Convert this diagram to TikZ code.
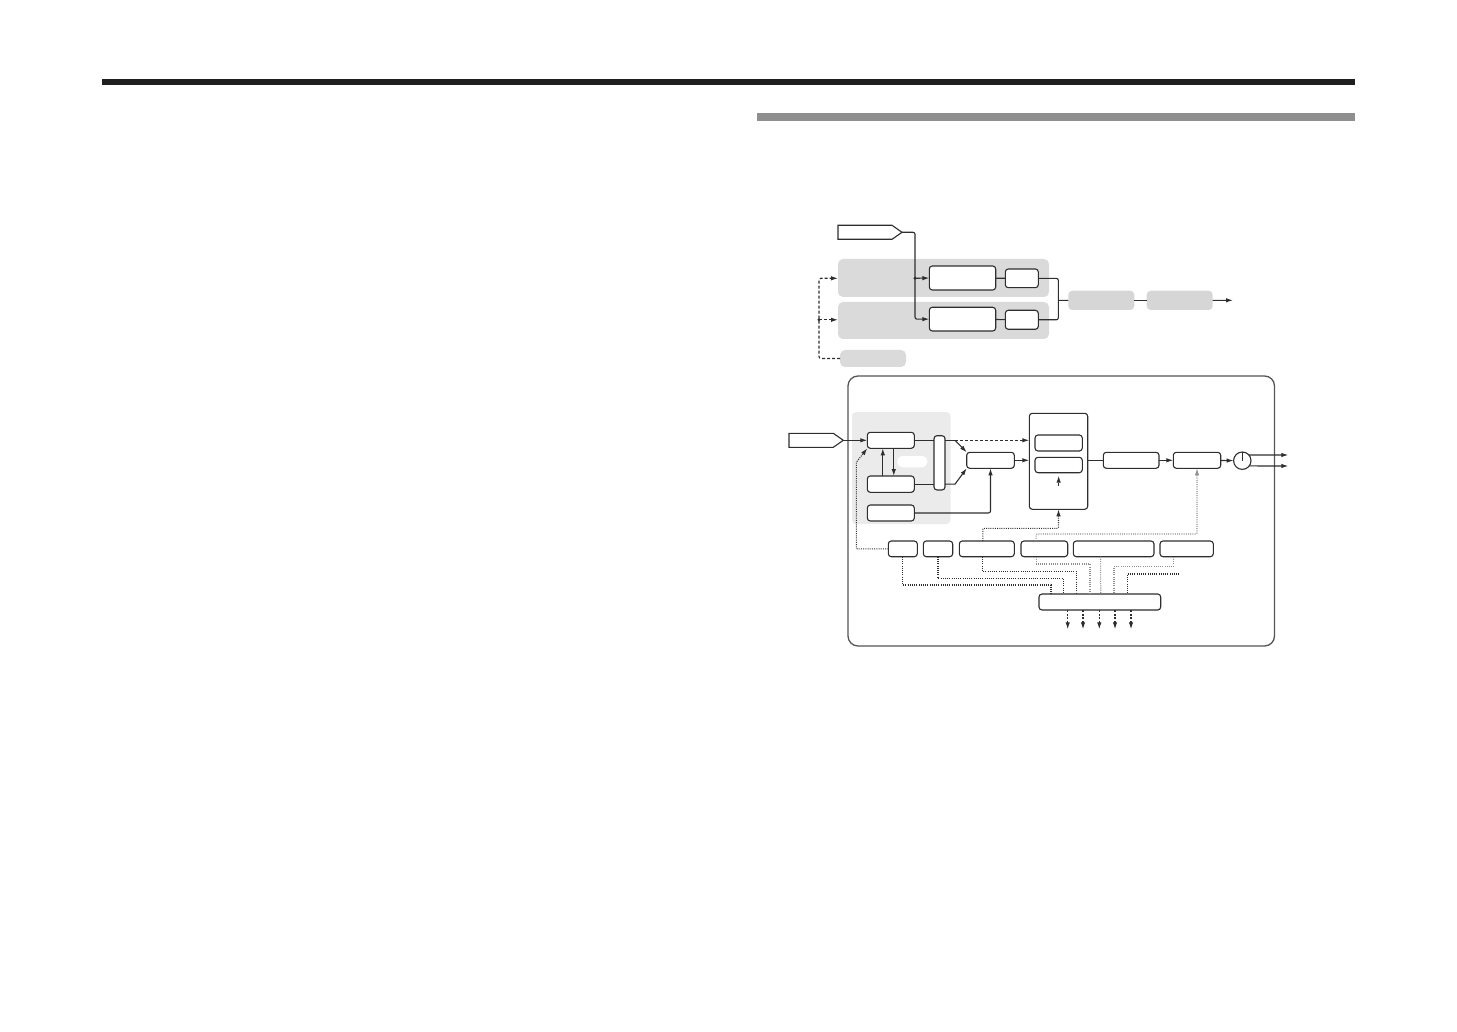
\documentclass[tikz,border=0pt]{standalone}
\usetikzlibrary{arrows.meta,calc,shapes.symbols}
\definecolor{linec}{HTML}{2E2E2E}
\definecolor{panelc}{HTML}{DADADA}
\definecolor{gboxc}{HTML}{D6D6D6}
\definecolor{innerc}{HTML}{EBEBEB}
\definecolor{barc}{HTML}{8F8F8F}
\definecolor{frame}{HTML}{555555}
\definecolor{dotgc}{HTML}{909090}
\newcommand\rbox[6]{\node[#1,anchor=north west,minimum width={#4-#2},minimum height={#5-#3}] (#6) at (#2,#3) {};}
\begin{document}
\begin{tikzpicture}[x=1pt,y=-1pt,
  box/.style={draw=linec,fill=white,rounded corners=3,line width=1.1pt,inner sep=0pt,outer sep=0pt},
  gpanel/.style={fill=panelc,rounded corners=5,inner sep=0pt,outer sep=0pt},
  gbox/.style={fill=gboxc,rounded corners=4,inner sep=0pt,outer sep=0pt},
  inpanel/.style={fill=innerc,rounded corners=4,inner sep=0pt,outer sep=0pt},
  blob/.style={fill=white,rounded corners=5,inner sep=0pt,outer sep=0pt},
  bigbox/.style={draw=frame,line width=1.3pt,rounded corners=10,inner sep=0pt,outer sep=0pt},
  sig/.style={draw=linec,fill=white,line width=1.1pt,shape=signal,signal to=east,signal pointer angle=70,inner sep=0pt,outer sep=0pt,anchor=west},
  ln/.style={draw=linec,line width=1.1pt},
  ar/.style={-{Latex[length=7pt,width=4.5pt]}},
  dsh/.style={dash pattern=on 3pt off 2pt},
  dsho/.style={dash pattern=on 2pt off 1.5pt},
  dotb/.style={draw=linec,line width=1.1pt,dash pattern=on 1pt off 1.2pt},
  dotg/.style={draw=dotgc,line width=1.1pt,dash pattern=on 1pt off 1.2pt}]
\useasboundingbox (0,0) rectangle (1457,1032);
% header bars
\fill[black!88] (102,79) rectangle (1355,85);
\fill[barc] (757,113) rectangle (1355,121);

% ---------- top diagram ----------
\rbox{gpanel}{838}{259}{1049}{297}{GP1}
\rbox{gpanel}{838}{302}{1049}{339}{GP2}
\rbox{gpanel}{840}{350}{906}{367}{GP3}
\node[sig,minimum width=64,minimum height=14] (P1) at (838,232.3) {};
\rbox{box}{929.3}{266}{995.7}{290}{T1}
\rbox{box}{1005.3}{269}{1038.3}{287.7}{S1}
\rbox{box}{929.3}{307.3}{995.7}{331}{T2}
\rbox{box}{1005.3}{310.3}{1038.3}{329.3}{S2}
\rbox{gbox}{1068.3}{290.7}{1134.3}{310}{G1}
\rbox{gbox}{1146.7}{290.7}{1212.7}{310}{G2}
\coordinate (j1) at (915,278.3);
\coordinate (m1) at (1058.3,300.3);
\coordinate (out1) at (1233,300.3);
\coordinate (d0) at (819,278.3);
\coordinate (d1) at (819,319.8);

\draw[ln,ar,rounded corners=2] (P1.east) -| (j1) |- (T2.west);
\draw[ln,ar] (j1) -- (T1.west);
\fill[linec] (j1) circle (1.6);
\draw[ln] (T1) -- (S1);
\draw[ln] (T2) -- (S2);
\draw[ln,rounded corners=2] (S1.east) -| (m1) |- (S2.east);
\draw[ln] (m1) -- (G1.west);
\draw[ln] (G1) -- (G2);
\draw[ln,ar] (G2.east) -- (out1);
\draw[ln,dsh,ar,rounded corners=2] (GP3.west) -| (d0) -- (d0 -| GP1.west);
\draw[ln,dsh,ar] (d1) -- (d1 -| GP2.west);
\fill[linec] (d1) circle (1.6);

% ---------- bottom diagram ----------
\rbox{bigbox}{848}{376}{1274.5}{646}{BB}
\rbox{inpanel}{852}{412}{950.5}{524}{IP}
\rbox{blob}{897.3}{456}{927.3}{467.3}{BL}
\node[sig,minimum width=54.3,minimum height=14] (P2) at (789,440.3) {};
\rbox{box}{867.3}{432.3}{914.3}{448.3}{A}
\rbox{box}{867.3}{476}{914.3}{492.3}{B}
\rbox{box}{867.3}{505}{914.3}{521}{C}
\rbox{box}{934}{435.7}{945}{490}{T}
\rbox{box}{966.7}{452.3}{1014.3}{468.3}{D}
\rbox{box}{1029.3}{413.3}{1087.7}{509.3}{E}
\rbox{box}{1035}{435}{1082.3}{451}{E1}
\rbox{box}{1035}{457.3}{1082.3}{472.7}{E2}
\rbox{box}{1103.3}{452.3}{1159}{468.3}{Q}
\rbox{box}{1173.3}{452.3}{1220.7}{468.3}{H}
\node[draw=linec,fill=white,line width=1.1pt,circle,minimum size=17.4,inner sep=0pt,outer sep=0pt] (K) at (1242.3,460.7) {};
\rbox{box}{888.3}{541}{917.3}{556.7}{F1}
\rbox{box}{923.3}{541}{952.7}{556.7}{F2}
\rbox{box}{959.3}{541}{1014.3}{556.7}{F3}
\rbox{box}{1021}{541}{1067.7}{556.7}{F4}
\rbox{box}{1073.3}{541}{1154}{556.7}{F5}
\rbox{box}{1160}{541}{1213.3}{556.7}{F6}
\rbox{box}{1039}{594}{1160.7}{610}{J}
\coordinate (u1) at (955,440.3);
\coordinate (u2) at (955,484.2);
\coordinate (o1) at (1288.3,455);
\coordinate (o2) at (1288.3,466);
\coordinate (fr) at (1179.3,574);

\draw[ln,ar] (P2.east) -- (A.west);
\draw[ln,ar] ($(B.north)+(-8,0)$) -- ($(A.south)+(-8,0)$);
\draw[ln,ar] ($(A.south)+(3,0)$) -- ($(B.north)+(3,0)$);
\draw[ln] (A.east) -- (A.east -| T.west);
\draw[ln] (B.east) -- (B.east -| T.west);
\draw[ln] (A.east -| T.east) -- (u1);
\draw[ln] (B.east -| T.east) -- (u2);
\draw[ln,ar] (u1) -- (D.north west);
\draw[ln,ar] (u2) -- (D.south west);
\draw[ln,dsh,ar] (u1) -- (u1 -| E.west);
\draw[ln,ar,rounded corners=2] (C.east) -| (D.south);
\draw[ln,ar] (D.east) -- (D.east -| E.west);
\draw[ln] (Q.west -| E.east) -- (Q.west);
\draw[ln,ar] (Q) -- (H);
\draw[ln,ar] (H) -- (K);
\draw[ln] (K.north) -- (K.center);
\draw[ln,ar] (K.41) -- (o1);
\draw[ln,ar] (K.-37) -- (o2);
\draw[ln,dsh,ar] ($(E2.south)+(0,13)$) -- ($(E2.south)+(0,3)$);

% dotted control lines
\draw[dotb,ar,rounded corners=1] ($(F3.north)+(-4,0)$) |- ($(E.south)+(0,19)$) -- (E.south);
\draw[dotg,ar,rounded corners=1] ($(F4.north)+(-8.3,0)$) |- ($(H.south)+(0,65.7)$) -- (H.south);
\draw[dotb,ar,rounded corners=1] (F1.west) -| ($(A.south west)+(-11,14)$) -- (A.south west);
\draw[dotb] (F1.south) |- ($(J.north west)+(12,-9)$) -- ($(J.north west)+(12,0)$);
\draw[dotb] (F2.south) |- ($(J.north west)+(24.3,-15.7)$) -- ($(J.north west)+(24.3,0)$);
\draw[dotb] ($(F3.south)+(-4,0)$) |- ($(J.north west)+(37.7,-22.3)$) -- ($(J.north west)+(37.7,0)$);
\draw[dotg] ($(F4.south)+(-8.3,0)$) |- ($(J.north west)+(51,-30)$) -- ($(J.north west)+(51,0)$);
\draw[dotg] ($(F5.south)+(-13,0)$) -- ($(J.north west)+(61.7,0)$);
\draw[dotg] ($(F6.south)+(-13.4,0)$) |- ($(J.north west)+(75,-27.3)$) -- ($(J.north west)+(75,0)$);
\draw[dotb] (fr) -| ($(J.north west)+(88.3,0)$);
\foreach \dx in {28.7,44,60.3,76,92}
  \draw[ln,dsho,ar] ($(J.south west)+(\dx,0)$) -- ($(J.south west)+(\dx,19.3)$);
\end{tikzpicture}
\end{document}
